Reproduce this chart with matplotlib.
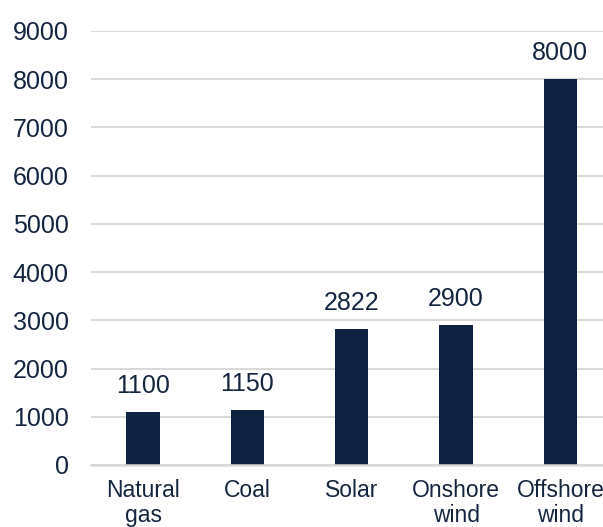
import matplotlib
matplotlib.use('Agg')
import matplotlib.pyplot as plt

# capacity values per technology
categories = ['Natural\ngas', 'Coal', 'Solar', 'Onshore\nwind', 'Offshore\nwind']
values = [1100, 1150, 2822, 2900, 8000]
yticks = [0, 1000, 2000, 3000, 4000, 5000, 6000, 7000, 8000, 9000]

bar_color = '#0f2341'
text_color = '#15253f'
grid_color = '#d9d9d9'

plt.rcParams['font.family'] = ['Liberation Sans', 'DejaVu Sans']

fig = plt.figure(figsize=(6.03, 5.27), dpi=100)
# axes runs a bit past the right edge of the figure
ax = fig.add_axes([91 / 603, 62 / 527, 521.5 / 603, 434 / 527])

x = list(range(len(categories)))
ax.bar(x, values, width=0.32, color=bar_color, zorder=3)

for xi, v in zip(x, values):
    ax.annotate(str(v), (xi, v), xytext=(0, 10), textcoords='offset points',
                ha='center', va='bottom', fontsize=18, color=text_color)

ax.set_xlim(-0.5, len(categories) - 0.5)
ax.set_ylim(0, 9000)
ax.set_yticks(yticks)
ax.set_xticks(x)
ax.set_xticklabels(categories, linespacing=1.12)
ax.tick_params(axis='y', length=0, pad=16, labelsize=18, labelcolor=text_color)
ax.tick_params(axis='x', length=0, pad=10, labelsize=16.5, labelcolor=text_color)

ax.grid(axis='y', color=grid_color, linewidth=1.5, zorder=0)
ax.set_axisbelow(True)
for s in ['top', 'right', 'left']:
    ax.spines[s].set_visible(False)
ax.spines['bottom'].set_color(grid_color)
ax.spines['bottom'].set_linewidth(1.8)
ax.spines['bottom'].set_zorder(4)

fig.savefig('out.png', dpi=100)
plt.close()
